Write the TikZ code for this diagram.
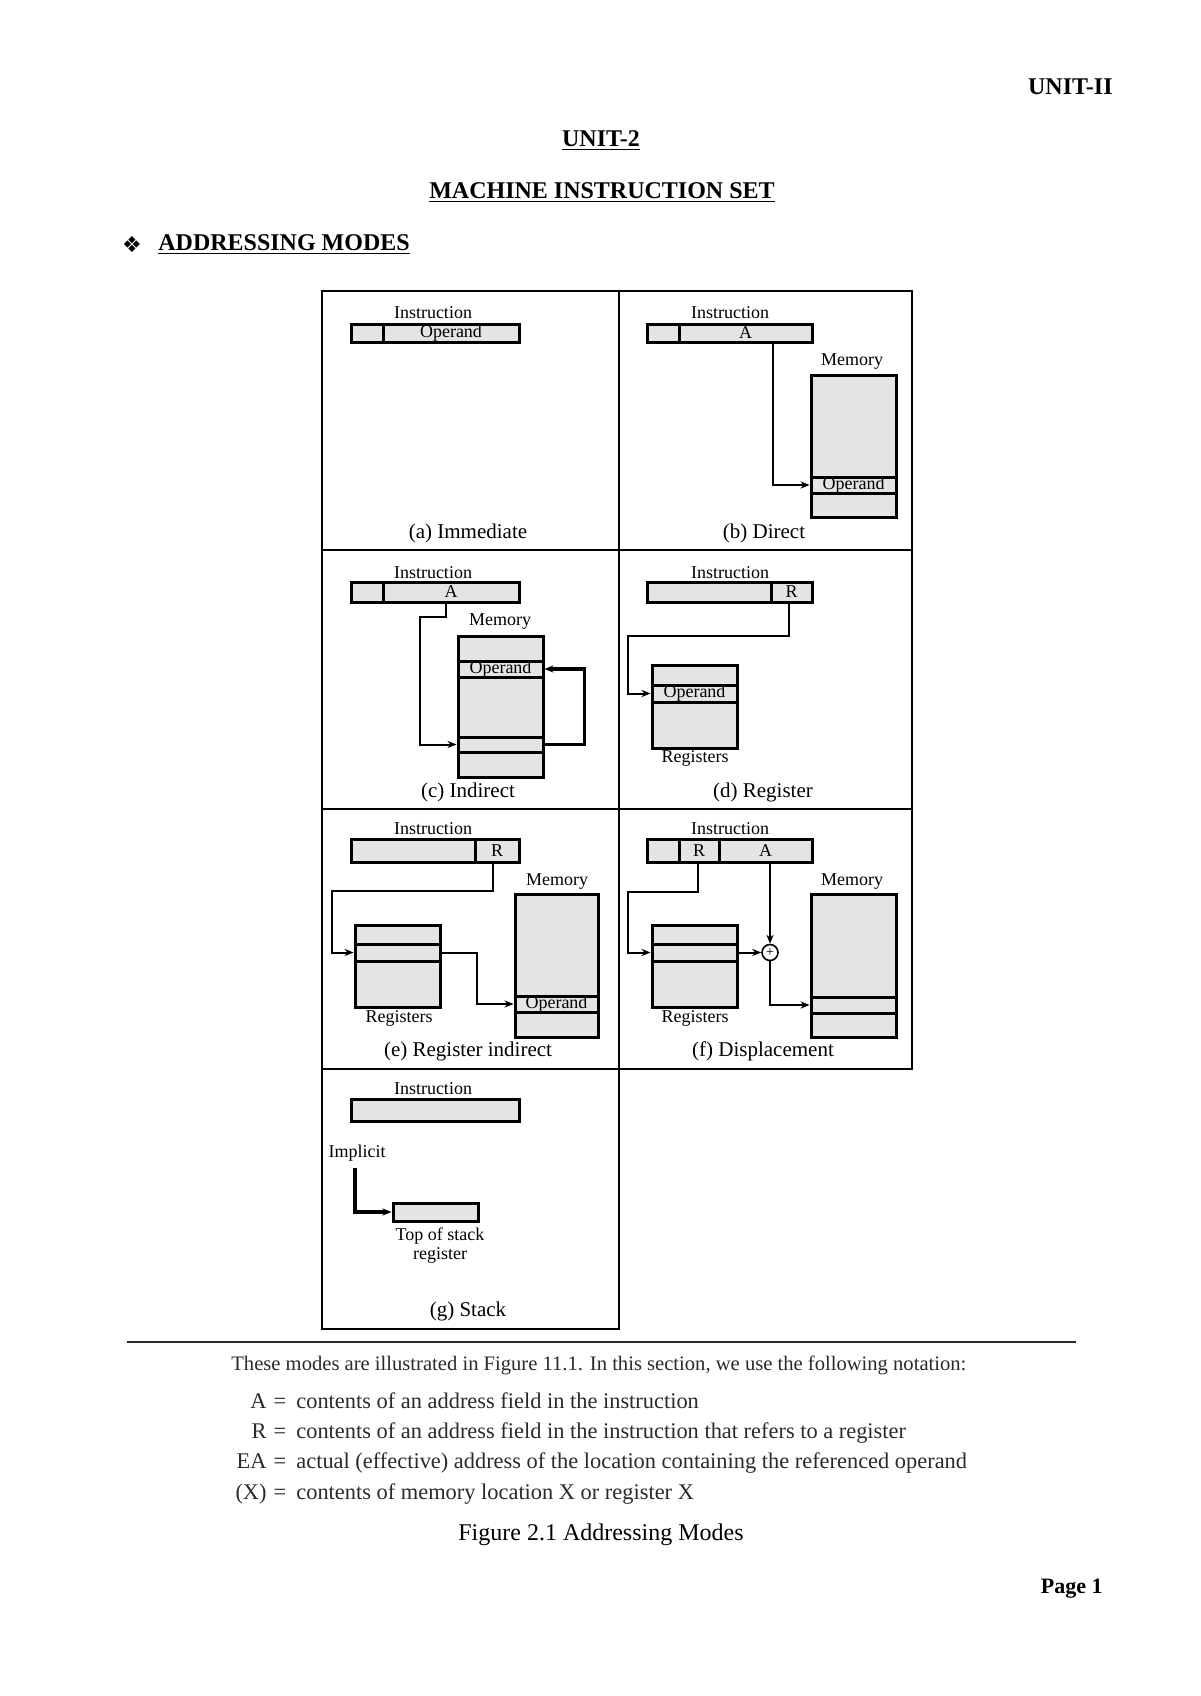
\documentclass[tikz,border=0pt]{standalone}
\usepackage{fontspec}
\setmainfont{Liberation Serif}
\newfontfamily\symfont{DejaVu Sans}
\usetikzlibrary{arrows.meta,fit,calc}
\definecolor{cellgray}{HTML}{E4E4E4}
\definecolor{inkgray}{HTML}{2A2A2A}
\begin{document}
\begin{tikzpicture}[x=0.5pt,y=-0.5pt,
  cell/.style={draw=black, fill=cellgray, line width=1.5pt, inner sep=0pt},
  every label/.style={inner sep=0pt, font=\fontsize{9}{10}\selectfont},
  panel/.style={draw=black, line width=1.1pt},
  lbl/.style={inner sep=0pt, font=\fontsize{9}{9.5}\selectfont},
  captxt/.style={inner sep=0pt, font=\fontsize{10.5}{12}\selectfont},
  link/.style={draw=black, line width=1pt, -{Stealth[length=4.5pt,width=3.6pt]}},
  heavylink/.style={link, line width=1.7pt},
  adder/.style={circle, draw=black, line width=0.8pt, fill=white, minimum size=8pt, inner sep=0pt, font=\fontsize{7}{7}\selectfont},
  hdr/.style={inner sep=0pt, font=\fontsize{12}{14}\selectfont\bfseries},
  foot/.style={inner sep=0pt, text=inkgray, font=\fontsize{10.3}{12}\selectfont, text height=1.6ex, text depth=.3ex},
  notat/.style={foot, font=\fontsize{11.2}{13}\selectfont},
]
\fill[white] (0,0) rectangle (1200,1696);
\useasboundingbox (0,0) rectangle (1200,1696);

% ---------- header ----------
\node[hdr, anchor=east] (unitii) at (1113,87) {UNIT-II};
\node[hdr] (unit2) at (601,141) {\underline{UNIT-2}};
\node[hdr] (mis) at (602,193) {\underline{MACHINE INSTRUCTION SET}};
\node[inner sep=0pt, font=\symfont\fontsize{11}{12}\selectfont] (bullet) at (132,245) {❖};
\node[hdr, anchor=west] (am) at (158,245) {\underline{ADDRESSING MODES}};

% ---------- panel frames ----------
\draw[panel] (322,291) rectangle (912,1069);
\draw[panel] (322,1069) rectangle (619,1329);
\draw[panel] (619,291) -- (619,1069);
\draw[panel] (322,550) -- (912,550);
\draw[panel] (322,809) -- (912,809);

% ---------- (a) Immediate ----------
\node[lbl] (ainstr) at (433,313) {Instruction};
\node[cell, fit={(351,324) (383,342)}] (aop) {};
\node[cell, fit={(383,324) (519,342)}, label=center:Operand] (aval) {};
\node[captxt] (acap) at (468,533) {(a) Immediate};

% ---------- (b) Direct ----------
\node[lbl] (binstr) at (730,313) {Instruction};
\node[cell, fit={(647,324) (679,342)}] (bop) {};
\node[cell, fit={(679,324) (812,342)}, label=center:A] (bA) {};
\node[lbl] (bmem) at (852,362) {Memory};
\node[cell, fit={(811,375) (896,477)}] (bm1) {};
\node[cell, fit={(811,477) (896,493)}, label=center:Operand] (bm2) {};
\node[cell, fit={(811,493) (896,517)}] (bm3) {};
\draw[link] ($(bA.south)+(27.5,0)$) |- (bm2.west);
\node[captxt] (bcap) at (764,533) {(b) Direct};

% ---------- (c) Indirect ----------
\node[lbl] (cinstr) at (433,573) {Instruction};
\node[cell, fit={(351,582) (383,602)}] (cop) {};
\node[cell, fit={(383,582) (519,602)}, label=center:A] (cA) {};
\node[lbl] (cmem) at (500,622) {Memory};
\node[cell, fit={(458,636) (543,661)}] (cm1) {};
\node[cell, fit={(458,661) (543,677)}, label=center:Operand] (cm2) {};
\node[cell, fit={(458,677) (543,737)}] (cm3) {};
\node[cell, fit={(458,737) (543,752)}] (cm4) {};
\node[cell, fit={(458,752) (543,777)}] (cm5) {};
\draw[link] ($(cA.south)+(-5,0)$) |- (420,617) |- (cm4.west);
\draw[heavylink] (cm4.east) -- ++(40,0) |- (cm2.east);
\node[captxt] (ccap) at (468,792) {(c) Indirect};

% ---------- (d) Register ----------
\node[lbl] (dinstr) at (730,573) {Instruction};
\node[cell, fit={(647,582) (771,602)}] (dop) {};
\node[cell, fit={(771,582) (812,602)}, label=center:R] (dR) {};
\node[cell, fit={(652,665) (737,685)}] (dr1) {};
\node[cell, fit={(652,685) (737,702)}, label=center:Operand] (dr2) {};
\node[cell, fit={(652,702) (737,748)}] (dr3) {};
\node[lbl] (dregs) at (695,758) {Registers};
\draw[link] ($(dR.south)+(-2.5,0)$) |- (628,636) |- (dr2.west);
\node[captxt] (dcap) at (763,792) {(d) Register};

% ---------- (e) Register indirect ----------
\node[lbl] (einstr) at (433,829) {Instruction};
\node[cell, fit={(351,839) (475,862)}] (eop) {};
\node[cell, fit={(475,839) (519,862)}, label=center:R] (eR) {};
\node[cell, fit={(355,925) (440,944)}] (er1) {};
\node[cell, fit={(355,944) (440,961)}] (er2) {};
\node[cell, fit={(355,961) (440,1007)}] (er3) {};
\node[lbl] (eregs) at (399,1018) {Registers};
\node[lbl] (emem) at (557,882) {Memory};
\node[cell, fit={(515,894) (598,996)}] (em1) {};
\node[cell, fit={(515,996) (598,1012)}, label=center:Operand] (em2) {};
\node[cell, fit={(515,1012) (598,1037)}] (em3) {};
\draw[link] ($(eR.south)+(-4,0)$) |- (332,891) |- (er2.west);
\draw[link] (er2.east) -| (477,1004) -- (em2.west);
\node[captxt] (ecap) at (468,1051) {(e) Register indirect};

% ---------- (f) Displacement ----------
\node[lbl] (finstr) at (730,829) {Instruction};
\node[cell, fit={(647,839) (679,862)}] (fop) {};
\node[cell, fit={(679,839) (719,862)}, label=center:R] (fR) {};
\node[cell, fit={(719,839) (812,862)}, label=center:A] (fA) {};
\node[cell, fit={(652,925) (737,944)}] (fr1) {};
\node[cell, fit={(652,944) (737,961)}] (fr2) {};
\node[cell, fit={(652,961) (737,1007)}] (fr3) {};
\node[lbl] (fregs) at (695,1018) {Registers};
\node[lbl] (fmem) at (852,882) {Memory};
\node[cell, fit={(811,894) (896,997)}] (fm1) {};
\node[cell, fit={(811,997) (896,1013)}] (fm2) {};
\node[cell, fit={(811,1013) (896,1037)}] (fm3) {};
\node[adder] (fadd) at (770,952.5) {+};
\draw[link] ($(fR.south)+(-1,0)$) |- (628,892) |- (fr2.west);
\draw[link] (fr2.east) -- (fadd.west);
\draw[link] ($(fA.south)+(4.5,0)$) -- (fadd.north);
\draw[link] (fadd.south) |- (fm2.west);
\node[captxt] (fcap) at (763,1051) {(f) Displacement};

% ---------- (g) Stack ----------
\node[lbl] (ginstr) at (433,1089) {Instruction};
\node[cell, fit={(351,1099) (519,1121)}] (gbox) {};
\node[lbl] (gimpl) at (357,1153) {Implicit};
\coordinate (gstart) at (355,1168);
\node[cell, fit={(393,1203) (478,1221)}] (gtos) {};
\draw[heavylink] (gstart) |- (gtos.west);
\node[lbl, align=center] (gtoslbl) at (440,1245.5) {Top of stack\\register};
\node[captxt] (gcap) at (468,1311) {(g) Stack};

% ---------- footer ----------
\draw[line width=1pt, draw=inkgray] (127,1342) -- (1076,1342);
\node[foot, anchor=west] (intro) at (231,1365) {These modes are illustrated in Figure 11.1. In this section, we use the following notation:};
\node[notat, anchor=east] (sA) at (267,1403) {A};
\node[notat] (eqA) at (280,1403) {=};
\node[notat, anchor=west] (tA) at (296,1403) {contents of an address field in the instruction};
\node[notat, anchor=east] (sR) at (267,1433) {R};
\node[notat] (eqR) at (280,1433) {=};
\node[notat, anchor=west] (tR) at (296,1433) {contents of an address field in the instruction that refers to a register};
\node[notat, anchor=east] (sEA) at (267,1463) {EA};
\node[notat] (eqEA) at (280,1463) {=};
\node[notat, anchor=west] (tEA) at (296,1463) {actual (effective) address of the location containing the referenced operand};
\node[notat, anchor=east] (sX) at (267,1494) {(X)};
\node[notat] (eqX) at (280,1494) {=};
\node[notat, anchor=west] (tX) at (296,1494) {contents of memory location X or register X};
\node[inner sep=0pt, font=\fontsize{12}{14}\selectfont] (figcap) at (601,1535) {Figure 2.1 Addressing Modes};
\node[inner sep=0pt, anchor=east, font=\fontsize{11}{13}\selectfont\bfseries] (page) at (1103,1589) {Page 1};
\end{tikzpicture}
\end{document}
